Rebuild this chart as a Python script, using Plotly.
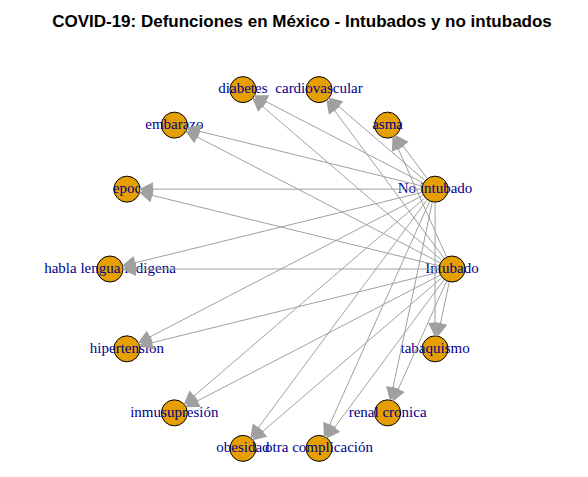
import numpy as np
import plotly.graph_objects as go

# nodes in circle order (counter-clockwise from the right)
nodes = ["Intubado", "No intubado", "asma", "cardiovascular", "diabetes", "embarazo",
         "epoc", "habla lengua indigena", "hipertension", "inmusupresión", "obesidad",
         "otra complicación", "renal cronica", "tabaquismo"]
sources = ["No intubado", "Intubado"]
targets = ["asma", "cardiovascular", "diabetes", "embarazo", "epoc", "habla lengua indigena",
           "hipertension", "inmusupresión", "obesidad", "otra complicación", "renal cronica",
           "tabaquismo"]

cx, cy, rx, ry = 273, 261, 171, 184
ang = 2 * np.pi * np.arange(len(nodes)) / len(nodes)
pos = {n: (cx + rx * np.cos(a), cy - ry * np.sin(a)) for n, a in zip(nodes, ang)}

fig = go.Figure()
for s in sources:
    for t in targets:
        fig.add_annotation(x=pos[t][0], y=pos[t][1], ax=pos[s][0], ay=pos[s][1],
                           xref="x", yref="y", axref="x", ayref="y", text="",
                           showarrow=True, arrowhead=2, arrowsize=2.8, arrowwidth=1,
                           arrowcolor="#A0A0A0", standoff=12, startstandoff=12)

fig.add_trace(go.Scatter(
    x=[pos[n][0] for n in nodes], y=[pos[n][1] for n in nodes],
    mode="markers+text", text=nodes, textposition="middle center",
    textfont=dict(family="Liberation Serif", size=15, color="#00008B"),
    marker=dict(size=26, color="#E69F00", line=dict(color="black", width=1)),
    hoverinfo="text", showlegend=False))

fig.update_layout(
    width=588, height=477, plot_bgcolor="white", paper_bgcolor="white",
    margin=dict(l=0, r=0, t=0, b=0),
    title=dict(text="<b>COVID-19: Defunciones en México - Intubados y no intubados</b>",
               x=0.5, y=0.985, xanchor="center", yanchor="top",
               font=dict(family="Liberation Sans", size=17, color="black")),
    xaxis=dict(range=[0, 588], visible=False),
    yaxis=dict(range=[477, 0], visible=False),
)
fig.write_html("out.html")
